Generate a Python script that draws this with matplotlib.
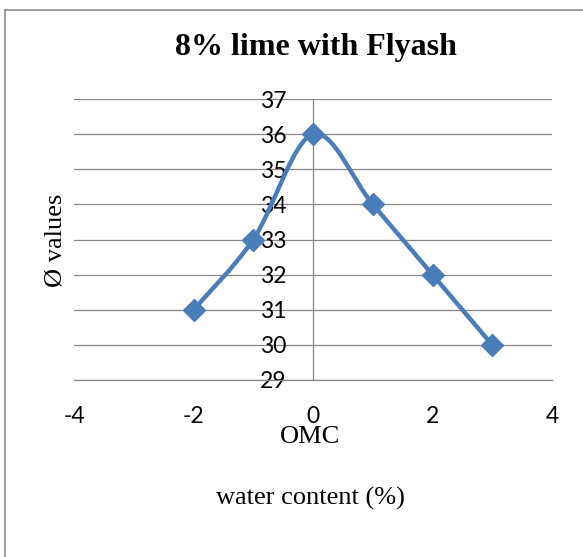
import matplotlib
matplotlib.use("Agg")
import matplotlib.pyplot as plt
from matplotlib.path import Path
from matplotlib.patches import PathPatch
from matplotlib.lines import Line2D

# data
water_content = [-2, -1, 0, 1, 2, 3]
phi_values = [31, 33, 36, 34, 32, 30]
x_ticks = [-4, -2, 0, 2, 4]
y_ticks = [29, 30, 31, 32, 33, 34, 35, 36, 37]

title_text = "8% lime with Flyash"
y_label = "Ø values"
omc_label = "OMC"
x_label = "water content (%)"

LINE_BLUE = "#4A7EBB"
GRID_GRAY = "#868686"
SERIF = ["Liberation Serif", "DejaVu Serif"]
SANS = ["Lato", "DejaVu Sans"]

plt.rcParams["axes.unicode_minus"] = False

W, H = 583, 557
fig = plt.figure(figsize=(W / 100, H / 100), dpi=100)
ax = fig.add_axes([74 / W, 1 - 380 / H, 478 / W, 281 / H])
ax.set_xlim(-4, 4)
ax.set_ylim(29, 37)
ax.set_xticks(x_ticks)
ax.set_yticks(y_ticks)

# excel-like axes: y axis crosses at x = 0
for side in ("top", "right"):
    ax.spines[side].set_visible(False)
ax.spines["left"].set_position(("data", 0))
ax.spines["left"].set_color(GRID_GRAY)
ax.spines["bottom"].set_color(GRID_GRAY)
ax.spines["left"].set_linewidth(0.9)
ax.spines["bottom"].set_linewidth(0.9)
ax.yaxis.grid(True, color=GRID_GRAY, lw=0.9)
ax.set_axisbelow(True)
ax.tick_params(axis="both", length=0, labelsize=16.5)
ax.tick_params(axis="y", pad=19)
ax.tick_params(axis="x", pad=19)
for lab in ax.get_xticklabels() + ax.get_yticklabels():
    lab.set_family(SANS)

# smoothed line (excel style bezier through the points)
pts = list(zip(water_content, phi_values))
verts = [pts[0]]
codes = [Path.MOVETO]
for i in range(len(pts) - 1):
    p_prev = pts[max(i - 1, 0)]
    p0 = pts[i]
    p1 = pts[i + 1]
    p_next = pts[min(i + 2, len(pts) - 1)]
    c1 = (p0[0] + (p1[0] - p_prev[0]) / 6, p0[1] + (p1[1] - p_prev[1]) / 6)
    c2 = (p1[0] - (p_next[0] - p0[0]) / 6, p1[1] - (p_next[1] - p0[1]) / 6)
    verts += [c1, c2, p1]
    codes += [Path.CURVE4] * 3
ax.add_patch(PathPatch(Path(verts, codes), fill=False, edgecolor=LINE_BLUE,
                       lw=3.2, capstyle="round", joinstyle="round", zorder=3))
ax.plot(water_content, phi_values, ls="none", marker="D", ms=11,
        color=LINE_BLUE, zorder=4, clip_on=False)

# texts
fig.text(316 / W, 1 - 48 / H, title_text, ha="center", va="center",
         fontsize=23, fontweight="bold", family=SERIF)
fig.text(310 / W, 1 - 437 / H, omc_label, ha="center", va="center",
         fontsize=19, family=SERIF)
fig.text(310 / W, 1 - 498 / H, x_label, ha="center", va="center",
         fontsize=19, family=SERIF)
fig.text(56 / W, 1 - 240 / H, y_label, ha="center", va="center",
         rotation=90, fontsize=19, family=SERIF)

# chart frame (only top and left edges visible)
fig.add_artist(Line2D([5 / W, 1], [1 - 10 / H, 1 - 10 / H],
                      transform=fig.transFigure, color="#8C8C8C", lw=1.2))
fig.add_artist(Line2D([5 / W, 5 / W], [1 - 10 / H, 0],
                      transform=fig.transFigure, color="#8C8C8C", lw=1.2))

fig.savefig("out.png", dpi=100)
